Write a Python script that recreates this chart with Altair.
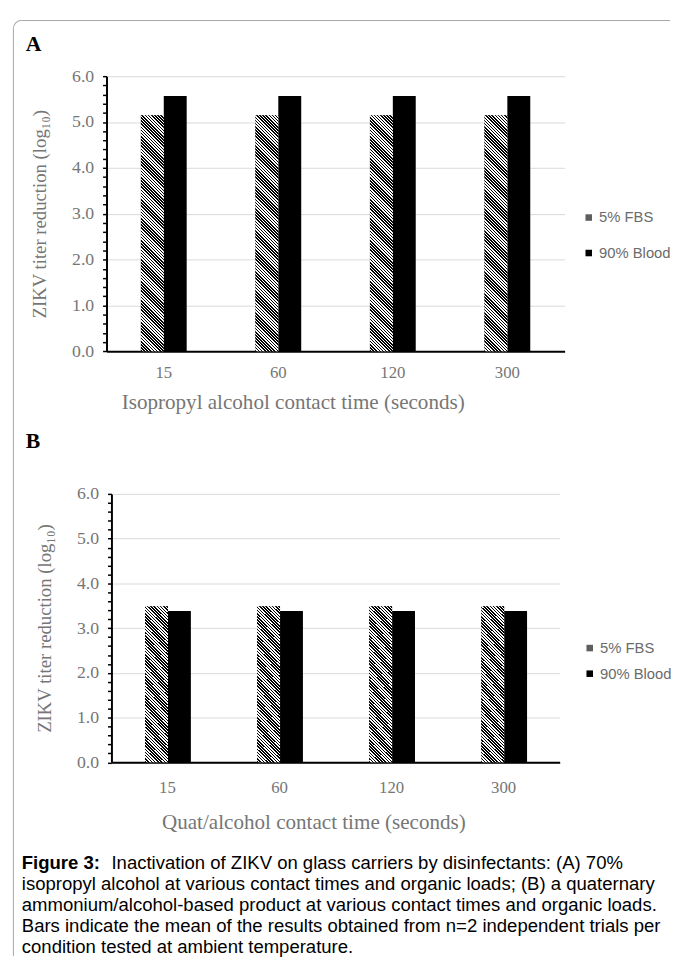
import altair as alt
import pandas as pd

# ---------------- data ----------------
times = ["15", "60", "120", "300"]
series = ["5% FBS", "90% Blood"]
iso_fbs = [5.15, 5.15, 5.15, 5.15]
iso_blood = [5.57, 5.57, 5.57, 5.57]
quat_fbs = [3.49, 3.49, 3.49, 3.49]
quat_blood = [3.38, 3.38, 3.38, 3.38]
y_ticks = [0.0, 0.2, 0.4, 0.6, 0.8, 1.0, 1.2, 1.4, 1.6, 1.8, 2.0, 2.2, 2.4, 2.6, 2.8,
           3.0, 3.2, 3.4, 3.6, 3.8, 4.0, 4.2, 4.4, 4.6, 4.8, 5.0, 5.2, 5.4, 5.6, 5.8, 6.0]
panel_letters = ["A", "B"]
y_title = "ZIKV titer reduction (log₁₀)"
x_titles = ["Isopropyl alcohol contact time (seconds)", "Quat/alcohol contact time (seconds)"]
caption_head = "Figure 3:"
caption_lines = [
    "Inactivation of ZIKV on glass carriers by disinfectants: (A) 70%",
    "isopropyl alcohol at various contact times and organic loads; (B) a quaternary",
    "ammonium/alcohol-based product at various contact times and organic loads.",
    "Bars indicate the mean of the results obtained from n=2 independent trials per",
    "condition tested at ambient temperature.",
]

# ---------------- style ----------------
SERIF = "Liberation Serif"
SANS = "Liberation Sans"
TXT = "#767676"
LEG = "#6b6b6b"
GRID = "#d9d9d9"
BORDER = "#a6a6a6"
CAP_SIZE = 18.8
INT_TEST = "abs(datum.value - round(datum.value)) < 0.001"


def hatch(w, h, period=3.2):
    """Diagonal black/white stripes as a linear gradient on the bar's box."""
    r = h / w
    d = (1 + r) / (1 + r * r)
    n = (w + h) / period
    p = 1.0 / n
    stops = []
    k = 0
    while k * p < 1:
        a = round(k * p, 5)
        b = round(min(k * p + p / 2, 1), 5)
        c = round(min((k + 1) * p, 1), 5)
        stops += [{"offset": a, "color": "black"}, {"offset": b, "color": "black"},
                  {"offset": b, "color": "white"}, {"offset": c, "color": "white"}]
        k += 1
    return {"gradient": "linear", "x1": 0, "y1": 1, "x2": d, "y2": 1 - d * r, "stops": stops}


one = pd.DataFrame({"k": [0]})


def panel(fbs, blood, letter, x_title, W, H, title_x, title_y, xlab_pad,
          leg_x, leg_y, row_pad, letter_x, letter_y, border=None):
    df = pd.DataFrame({
        "time": times * 2,
        "series": [series[0]] * len(times) + [series[1]] * len(times),
        "value": fbs + blood,
    })
    x = alt.X("time:N", sort=times,
              scale=alt.Scale(paddingInner=0.6, paddingOuter=0.3),
              axis=alt.Axis(title=x_title, labelAngle=0, ticks=False, tickSize=0,
                            domainColor="black", domainWidth=2, grid=False,
                            labelFont=SERIF, labelFontSize=17, labelColor=TXT,
                            labelPadding=xlab_pad,
                            titleFont=SERIF, titleFontSize=21.4, titleFontWeight="normal",
                            titleColor=TXT, titleX=title_x, titleY=title_y,
                            titleBaseline="middle", titleAlign="center"))
    xo = alt.XOffset("series:N", sort=series,
                     scale=alt.Scale(domain=series, paddingInner=0, paddingOuter=0))
    y = alt.Y("value:Q", scale=alt.Scale(domain=[0, 6], nice=False, zero=True),
              axis=alt.Axis(title=y_title, values=y_ticks,
                            labelExpr=f"{INT_TEST} ? format(datum.value, '.1f') : ''",
                            labelOverlap=False, labelFlush=False,
                            labelFont=SERIF, labelFontSize=18, labelColor=TXT,
                            labelPadding=9,
                            domainColor="black", domainWidth=2,
                            tickColor="black", tickWidth=1.5, tickSize=4,
                            grid=True, gridColor=GRID, gridWidth=1,
                            gridOpacity={"condition": {"test": INT_TEST, "value": 1}, "value": 0},
                            titleFont=SERIF, titleFontSize=19, titleFontWeight="normal",
                            titleColor=TXT, titlePadding=22))
    base = alt.Chart(df).mark_bar().encode(
        x=x, xOffset=xo, y=y,
        color=alt.Color("series:N", sort=series,
                        scale=alt.Scale(domain=series, range=["#5e5e5e", "black"]),
                        legend=alt.Legend(title=None, orient="none", legendX=leg_x, legendY=leg_y,
                                          symbolType="square", symbolSize=44,
                                          symbolStrokeWidth=0, labelFont=SANS,
                                          labelFontSize=15, labelColor=LEG, labelOffset=3,
                                          rowPadding=row_pad, padding=0)),
    )
    bar_w = W / 4 * 0.4 / 2
    bar_h = fbs[0] / 6 * H
    hatch_layer = alt.Chart(df).transform_filter(
        alt.datum.series == series[0]
    ).mark_bar(fill=hatch(bar_w, bar_h)).encode(x=x, xOffset=xo, y=y)
    letter_layer = alt.Chart(one).mark_text(
        text=letter, font=SERIF, fontSize=22, fontWeight="bold", align="left",
        baseline="alphabetic", color="black"
    ).encode(x=alt.value(letter_x), y=alt.value(letter_y))
    layers = [base, hatch_layer, letter_layer]
    if border is not None:
        ox, oy = border
        top = alt.Chart(one).mark_rule(color=BORDER, strokeWidth=1).encode(
            x=alt.value(21.5 - ox), x2=alt.value(680 - ox), y=alt.value(13.5 - oy))
        left = alt.Chart(one).mark_rule(color=BORDER, strokeWidth=1).encode(
            x=alt.value(13.5 - ox), y=alt.value(21.5 - oy), y2=alt.value(963 - oy))
        corner = alt.Chart(one).mark_arc(
            radius=8.5, radius2=7.5, theta=4.712389, theta2=6.283185, color=BORDER
        ).encode(x=alt.value(21.5 - ox), y=alt.value(21.5 - oy))
        layers = [top, left, corner] + layers
    return alt.layer(*layers).properties(width=W, height=H)


WA, HA = 465, 279.3
WB, HB = 455, 272.5

pa = panel(iso_fbs, iso_blood, panel_letters[0], x_titles[0], WA, HA,
           title_x=189, title_y=52, xlab_pad=14, leg_x=482, leg_y=136, row_pad=20,
           letter_x=-82, letter_y=-26, border=(108, 70))
pb = panel(quat_fbs, quat_blood, panel_letters[1], x_titles[1], WB, HB,
           title_x=205, title_y=61, xlab_pad=18, leg_x=478, leg_y=149, row_pad=10,
           letter_x=-87, letter_y=-46.5)

# ---------------- caption ----------------
cap_df = pd.DataFrame({"idx": list(range(len(caption_lines))), "text": caption_lines})
head_df = pd.DataFrame({"idx": [0], "text": [caption_head]})
cy = alt.Y("idx:O", axis=None,
           scale=alt.Scale(domain=list(range(len(caption_lines))), range=[-53.4, 54.1],
                           paddingInner=0, paddingOuter=0))
cap_head = alt.Chart(head_df).mark_text(
    font=SANS, fontSize=CAP_SIZE, fontWeight="bold", align="left", baseline="middle", color="black"
).encode(x=alt.value(-86), y=cy, text="text:N")
cap_first = alt.Chart(cap_df).transform_filter(alt.datum.idx == 0).mark_text(
    font=SANS, fontSize=CAP_SIZE, align="left", baseline="middle", color="black"
).encode(x=alt.value(5), y=cy, text="text:N")
cap_rest = alt.Chart(cap_df).transform_filter(alt.datum.idx > 0).mark_text(
    font=SANS, fontSize=CAP_SIZE, align="left", baseline="middle", color="black"
).encode(x=alt.value(-86), y=cy, text="text:N")
cap = alt.layer(cap_head, cap_first, cap_rest).properties(width=465, height=54)

chart = alt.vconcat(pa, pb, cap, spacing=144, center=True, bounds="flush").resolve_scale(
    color="independent", x="independent", y="independent"
).resolve_legend(color="independent").properties(
    padding={"left": 5, "top": 5, "right": 0, "bottom": 0}
).configure_view(stroke=None)

chart.save("out.html", embed_options={"renderer": "svg", "actions": False})
